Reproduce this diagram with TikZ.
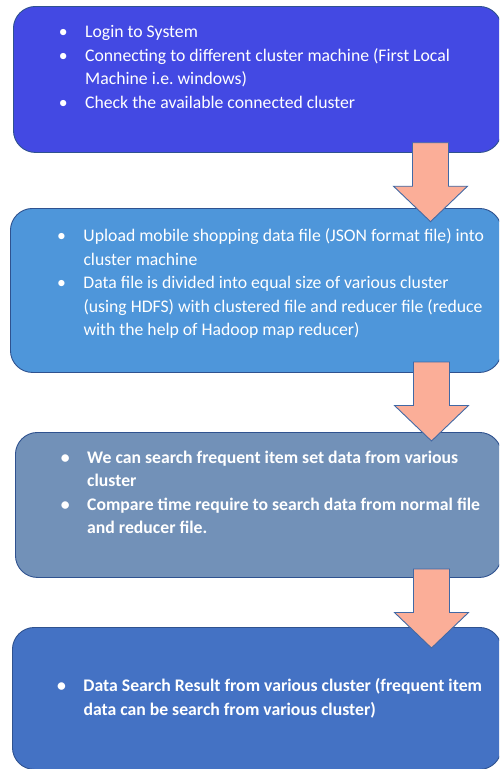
\documentclass[tikz,border=0pt]{standalone}
\usepackage{fontspec}
\setmainfont{Carlito}
\frenchspacing
\definecolor{boxA}{RGB}{67,73,227}
\definecolor{boxB}{RGB}{78,150,218}
\definecolor{boxC}{RGB}{114,145,184}
\definecolor{boxD}{RGB}{68,114,196}
\definecolor{edgeblue}{RGB}{47,82,143}
\definecolor{arrowfill}{RGB}{251,174,152}
\definecolor{arrowedge}{RGB}{65,105,165}
\tikzset{
  panel/.style={draw=edgeblue, line width=0.9pt, rounded corners=22pt, anchor=north west, inner sep=0pt},
  ln/.style={anchor=base west, inner sep=0pt, text=white, font=\fontsize{17.7}{23.5}\selectfont},
  lnb/.style={ln, font=\fontsize{17.7}{23.5}\selectfont\bfseries},
  blockarrow/.style={fill=arrowfill, draw=arrowedge, line width=0.9pt, line join=miter}
}
\newcommand{\bul}{\llap{\textbullet\hspace{17.5pt}}}
\begin{document}
\begin{tikzpicture}[x=1pt,y=-1pt]
\useasboundingbox (0,0) rectangle (499,769);
\clip (0,0) rectangle (499,769);
% panels
\node[panel, fill=boxA, minimum width=488pt, minimum height=146pt] (p1) at (13,6) {};
\node[panel, fill=boxB, minimum width=491pt, minimum height=164pt] (p2) at (10,208) {};
\node[panel, fill=boxC, minimum width=486pt, minimum height=145pt] (p3) at (15,432) {};
\node[panel, fill=boxD, minimum width=489pt, minimum height=142pt] (p4) at (12,627) {};
% panel 1 text
\node[ln] (t11) at (85,37.3) {\bul Login to System};
\node[ln] (t12) at (85,61) {\bul Connecting to different cluster machine (First Local};
\node[ln] (t13) at (85,84.6) {Machine i.e. windows)};
\node[ln] (t14) at (85,108.2) {\bul Check the available connected cluster};
% panel 2 text
\node[ln] (t21) at (83.3,241.5) {\bul Upload mobile shopping data file (JSON format file) into};
\node[ln] (t22) at (83.3,265) {cluster machine};
\node[ln] (t23) at (83.3,288.5) {\bul Data file is divided into equal size of various cluster};
\node[ln] (t24) at (83.3,312) {(using HDFS) with clustered file and reducer file (reduce};
\node[ln] (t25) at (83.3,335.5) {with the help of Hadoop map reducer)};
% panel 3 text
\node[lnb] (t31) at (87,463.3) {\bul We can search frequent item set data from various};
\node[lnb] (t32) at (87,486.6) {cluster};
\node[lnb] (t33) at (87,510) {\bul Compare time require to search data from normal file};
\node[lnb] (t34) at (87,533.3) {and reducer file.};
% panel 4 text
\node[lnb] (t41) at (83.3,691.7) {\bul Data Search Result from various cluster (frequent item};
\node[lnb] (t42) at (83.3,715) {data can be search from various cluster)};
% arrows
\coordinate (a1) at (430.5,221.7);
\coordinate (a2) at (431.5,441);
\coordinate (a3) at (431.5,648);
\foreach \a in {a1,a2,a3}{
  \draw[blockarrow] (\a) -- ++(-37,-35.5) -- ++(19,0) -- ++(0,-43.5) -- ++(36,0) -- ++(0,43.5) -- ++(19,0) -- cycle;
}
\end{tikzpicture}
\end{document}
